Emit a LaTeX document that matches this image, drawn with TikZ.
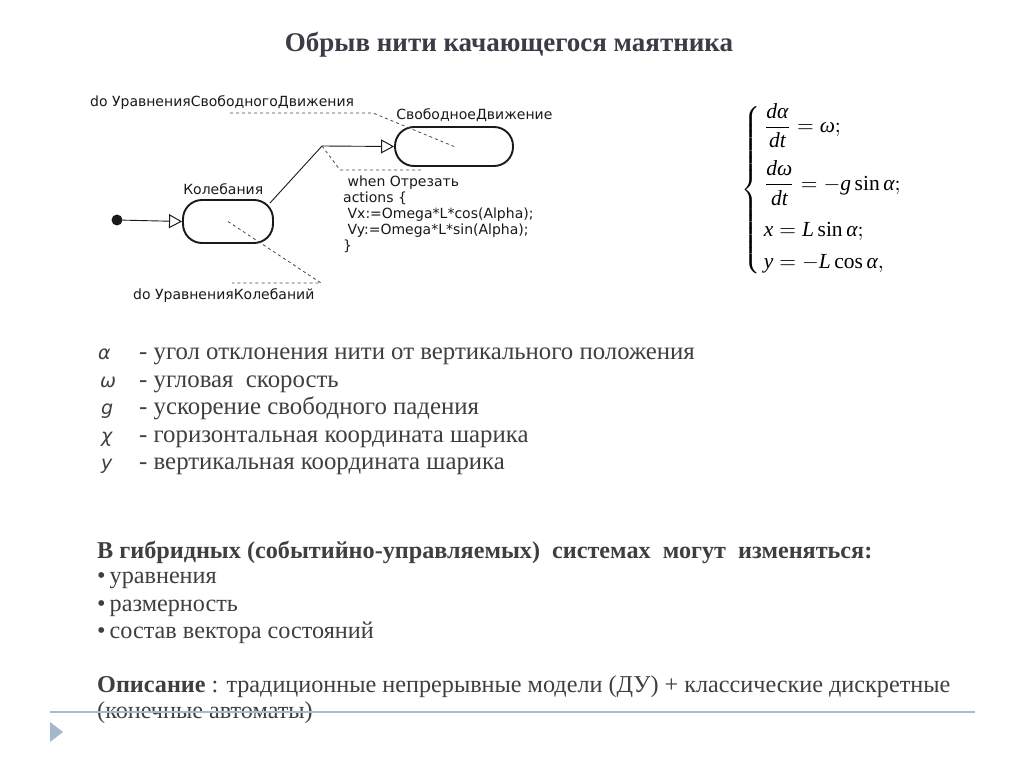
\documentclass[tikz,border=0pt]{standalone}
\usepackage{amsmath,amssymb}
\usepackage{fontspec}
\setmainfont{Liberation Serif}
\newfontfamily\umlfont{DejaVu Sans}
\newfontfamily\symfont{DejaVu Sans}
\usepackage{tikz}
\usetikzlibrary{arrows.meta,calc,positioning}
\definecolor{slidetext}{HTML}{3F3F3F}
\definecolor{slidetitle}{HTML}{3C3C46}
\definecolor{slidebar}{HTML}{A9BACB}
\definecolor{slidemark}{HTML}{A3B8CE}
\definecolor{umlink}{HTML}{1A1A1A}
\newcommand{\eqvar}[1]{\text{\itshape #1}}
\newcommand{\eqfun}[1]{\text{#1}}

\begin{document}
\begin{tikzpicture}[x=1pt,y=-1pt,
  state/.style={draw=umlink,line width=1.9pt,rounded corners=19pt,inner sep=0pt},
  lbl/.style={font=\umlfont\fontsize{14}{16}\selectfont,text=umlink,inner sep=0pt},
  trans/.style={draw=umlink,line width=0.9pt,-{Triangle[open,length=13pt,width=14pt,line width=1pt]}},
  note/.style={draw=umlink!80,line width=0.8pt,dash pattern=on 3pt off 3pt},
  body/.style={font=\fontsize{24.8}{28}\selectfont,text=slidetext,anchor=base west,inner sep=0pt},
  sym/.style={font=\symfont\itshape\fontsize{19}{22}\selectfont,text=slidetext,anchor=base west,inner sep=0pt},
  listline/.style={body,font=\fontsize{24.2}{28}\selectfont}]
\useasboundingbox (0,0) rectangle (1024,767);
\fill[white] (0,0) rectangle (1024,767);

\node[font=\bfseries\fontsize{27}{31}\selectfont,text=slidetitle,anchor=base] (title) at (509,52) {Обрыв нити качающегося маятника};

\node[circle,fill=umlink,minimum size=11pt,inner sep=0pt] (init) at (117,220) {};
\node[state,minimum width=90pt,minimum height=43pt] (kol) at (228,221.5) {};
\node[state,minimum width=118pt,minimum height=39pt] (svob) at (454,146.5) {};
\node[lbl,above right=4pt and 1pt of kol.north west] (kol-name) {Колебания};
\node[lbl,above right=4pt and 2pt of svob.north west] (svob-name) {СвободноеДвижение};
\coordinate (cut) at (322,146);
\draw[trans] (init) -- (kol.west);
\draw[trans] ($(kol.north east)+(-4,4)$) -- (cut) -- (svob.west);

\node[lbl,anchor=west] (do-svob) at (90,103) {do УравненияСвободногоДвижения};
\coordinate (do-svob-a) at (230,113);
\coordinate (do-svob-b) at (373,113);
\draw[note] (do-svob-a) -- (do-svob-b) -- (svob.center);

\coordinate (when-a) at (340,170);
\coordinate (when-b) at (423,170);
\draw[note] (cut) -- (when-a) -- (when-b);
\node[lbl,anchor=north west,align=left,font=\umlfont\fontsize{14}{16}\selectfont] (when) at (343,176)
  {\ when Отрезать\\actions \{\\\ Vx:=Omega*L*cos(Alpha);\\\ Vy:=Omega*L*sin(Alpha);\\\}};

\node[lbl,anchor=north west] (do-kol) at (133,288) {do УравненияКолебаний};
\coordinate (do-kol-a) at (321,283);
\coordinate (do-kol-b) at (232,283);
\draw[note] (kol.center) -- (do-kol-a) -- (do-kol-b);

\node[anchor=north west,inner sep=0pt] (sys) at (741,103)
  {\scalebox{2.15}{$\left\{\begin{array}{@{\,}l@{}}
  \dfrac{\eqvar{dα}}{\eqvar{dt}}=\eqvar{ω};\\[9.5pt]
  \dfrac{\eqvar{dω}}{\eqvar{dt}}=-\eqvar{g}\,\eqfun{sin}\,\eqvar{α};\\[9.5pt]
  \eqvar{x}=\eqvar{L}\,\eqfun{sin}\,\eqvar{α};\\[3pt]
  \eqvar{y}=-\eqvar{L}\,\eqfun{cos}\,\eqvar{α},
  \end{array}\right.$}};

\node[sym] (s1) at (98,359) {α};
\node[sym] (s2) at (100,387) {ω};
\node[sym] (s3) at (101,414) {g};
\node[sym] (s4) at (101,442) {χ};
\node[sym] (s5) at (101,469) {y};
\node[body] (t1) at (139,359) {- угол отклонения нити от вертикального положения};
\node[body] (t2) at (139,387) {- угловая\ \ скорость};
\node[body] (t3) at (139,414) {- ускорение свободного падения};
\node[body] (t4) at (139,442) {- горизонтальная координата шарика};
\node[body] (t5) at (139,469) {- вертикальная координата шарика};

\node[listline,font=\bfseries\fontsize{24.2}{28}\selectfont] (hyb) at (97,558) {В гибридных (событийно-управляемых)\ \ системах\ \ могут\ \ изменяться:};
\node[listline] (b1) at (97,583) {\textbullet\,уравнения};
\node[listline] (b2) at (97,611) {\textbullet\,размерность};
\node[listline] (b3) at (97,638) {\textbullet\,состав вектора состояний};
\node[listline] (desc) at (97,692) {\textbf{Описание} : традиционные непрерывные модели (ДУ) + классические дискретные};
\node[listline] (desc2) at (97,718) {(конечные автоматы)};

\draw[slidebar,line width=1.8pt] (50,712) coordinate (bar-a) -- (975,712) coordinate (bar-b);
\fill[slidemark] (50,722) coordinate (mark) -- (63,732) -- (50,742) -- cycle;
\end{tikzpicture}
\end{document}
